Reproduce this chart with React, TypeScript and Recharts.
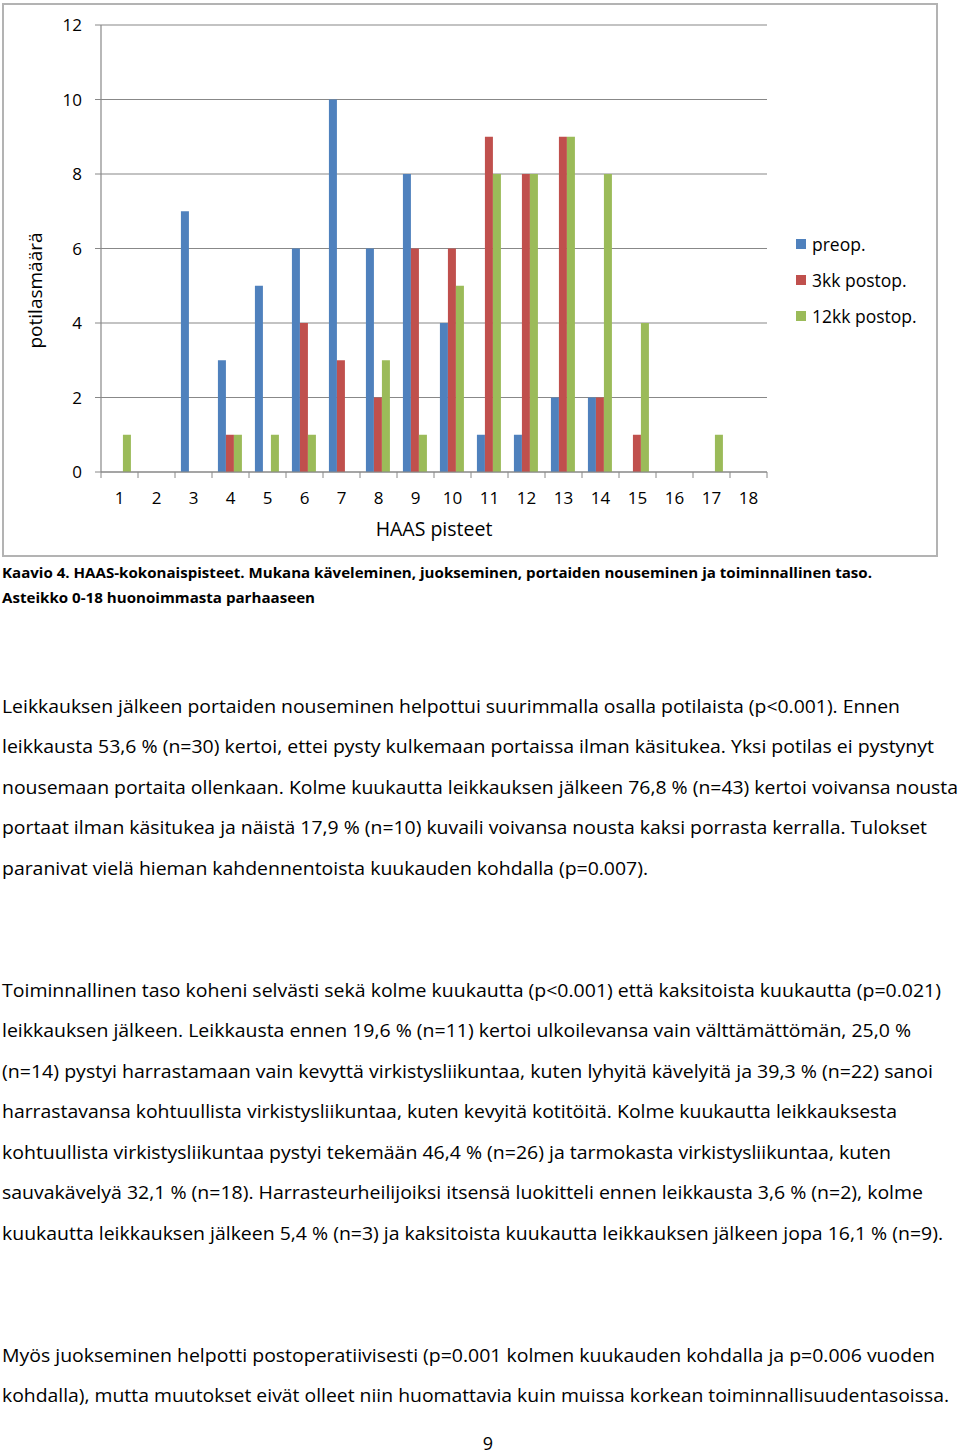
import React from 'react';
import { BarChart, Bar, XAxis, YAxis, CartesianGrid, Legend } from 'recharts';

// HAAS score categories and patient counts per time point
const scores = ['1', '2', '3', '4', '5', '6', '7', '8', '9', '10', '11', '12', '13', '14', '15', '16', '17', '18'];
const preop = [0, 0, 7, 3, 5, 6, 10, 6, 8, 4, 1, 1, 2, 2, 0, 0, 0, 0];
const postop3 = [0, 0, 0, 1, 0, 4, 3, 2, 6, 6, 9, 8, 9, 2, 1, 0, 0, 0];
const postop12 = [1, 0, 0, 1, 1, 1, 0, 3, 1, 5, 8, 8, 9, 8, 4, 0, 1, 0];
const yTicks = [0, 2, 4, 6, 8, 10, 12];
const seriesNames = ['preop.', '3kk postop.', '12kk postop.'];

const data = scores.map((s, i) => ({ score: s, preop: preop[i], postop3: postop3[i], postop12: postop12[i] }));

const captionLines = [
  'Kaavio 4. HAAS-kokonaispisteet. Mukana käveleminen, juokseminen, portaiden nouseminen ja toiminnallinen taso.',
  'Asteikko 0-18 huonoimmasta parhaaseen',
];
const para1 = [
  'Leikkauksen jälkeen portaiden nouseminen helpottui suurimmalla osalla potilaista (p<0.001). Ennen',
  'leikkausta 53,6 % (n=30) kertoi, ettei pysty kulkemaan portaissa ilman käsitukea. Yksi potilas ei pystynyt',
  'nousemaan portaita ollenkaan. Kolme kuukautta leikkauksen jälkeen 76,8 % (n=43) kertoi voivansa nousta',
  'portaat ilman käsitukea ja näistä 17,9 % (n=10) kuvaili voivansa nousta kaksi porrasta kerralla. Tulokset',
  'paranivat vielä hieman kahdennentoista kuukauden kohdalla (p=0.007).',
];
const para2 = [
  'Toiminnallinen taso koheni selvästi sekä kolme kuukautta (p<0.001) että kaksitoista kuukautta (p=0.021)',
  'leikkauksen jälkeen. Leikkausta ennen 19,6 % (n=11) kertoi ulkoilevansa vain välttämättömän, 25,0 %',
  '(n=14) pystyi harrastamaan vain kevyttä virkistysliikuntaa, kuten lyhyitä kävelyitä ja 39,3 % (n=22) sanoi',
  'harrastavansa kohtuullista virkistysliikuntaa, kuten kevyitä kotitöitä. Kolme kuukautta leikkauksesta',
  'kohtuullista virkistysliikuntaa pystyi tekemään 46,4 % (n=26) ja tarmokasta virkistysliikuntaa, kuten',
  'sauvakävelyä 32,1 % (n=18). Harrasteurheilijoiksi itsensä luokitteli ennen leikkausta 3,6 % (n=2), kolme',
  'kuukautta leikkauksen jälkeen 5,4 % (n=3) ja kaksitoista kuukautta leikkauksen jälkeen jopa 16,1 % (n=9).',
];
const para3 = [
  'Myös juokseminen helpotti postoperatiivisesti (p=0.001 kolmen kuukauden kohdalla ja p=0.006 vuoden',
  'kohdalla), mutta muutokset eivät olleet niin huomattavia kuin muissa korkean toiminnallisuudentasoissa.',
];

// line layout: [y centre, right end]
const captionLayout = [[572, 872], [597, 315]];
const para1Layout = [[706, 900], [746, 934], [787, 958], [827, 927], [868, 648]];
const para2Layout = [[990, 941], [1030, 911], [1071, 933], [1111, 897], [1152, 891], [1192, 923], [1233, 943]];
const para3Layout = [[1355, 935], [1395, 949]];

const BLUE = '#4F81BD';
const RED = '#C0504D';
const GREEN = '#9BBB59';
const AXIS = '#888888';
const FONT = '"Open Sans", "Liberation Sans", sans-serif';

const ScoreTick = (props: any) => {
  const { x, y, payload, index } = props;
  const half = payload && payload.offset ? payload.offset : 18.5;
  return (
    <g>
      <line x1={x - half} x2={x - half} y1={y} y2={y + 6} stroke={AXIS} />
      {index === scores.length - 1 && <line x1={x + half} x2={x + half} y1={y} y2={y + 6} stroke={AXIS} />}
      <text x={x} y={y + 32} textAnchor="middle" fontSize={17} fontFamily={FONT} fill="#000">
        {payload.value}
      </text>
    </g>
  );
};

const renderLegend = (props: any) => {
  const items = seriesNames.map((n) => props.payload.find((p: any) => p.value === n)).filter(Boolean);
  return (
    <div style={{ fontFamily: FONT, fontSize: 17.5 }}>
      {items.map((p: any) => (
        <div key={p.value} style={{ display: 'flex', alignItems: 'center', height: 36 }}>
          <span style={{ width: 10, height: 10, background: p.color, marginRight: 6, display: 'inline-block' }} />
          <span style={{ color: '#000' }}>{p.value}</span>
        </div>
      ))}
    </div>
  );
};

const YTitle = (props: any) => {
  const { viewBox } = props;
  const cx = viewBox.x + 35;
  const cy = viewBox.y + viewBox.height / 2 + 42;
  return (
    <text x={cx} y={cy} transform={`rotate(-90, ${cx}, ${cy})`} textAnchor="middle" dominantBaseline="central" fontSize={19} fontFamily={FONT} fill="#000">
      potilasmäärä
    </text>
  );
};

const TextLines = ({ lines, layout, size, weight }: any) => (
  <>
    {lines.map((t: string, i: number) => (
      <text
        key={i}
        x={2}
        y={layout[i][0]}
        dominantBaseline="central"
        fontSize={size}
        fontWeight={weight}
        fontFamily={FONT}
        textLength={layout[i][1] - 2}
        lengthAdjust="spacingAndGlyphs"
        fill="#000"
      >
        {t}
      </text>
    ))}
  </>
);

export default function App() {
  return (
    <div style={{ position: 'absolute', left: 0, top: 0, width: 960, height: 1455, background: '#fff', overflow: 'hidden' }}>
      <svg width={960} height={1455} style={{ position: 'absolute', left: 0, top: 0 }}>
        <TextLines lines={captionLines} layout={captionLayout} size={15} weight={700} />
        <TextLines lines={para1} layout={para1Layout} size={19} weight={400} />
        <TextLines lines={para2} layout={para2Layout} size={19} weight={400} />
        <TextLines lines={para3} layout={para3Layout} size={19} weight={400} />
        <text x={488} y={1443} textAnchor="middle" dominantBaseline="central" fontSize={18} fontFamily={FONT} fill="#000">
          9
        </text>
      </svg>
      <div
        style={{
          position: 'absolute',
          left: 2,
          top: 3,
          width: 936,
          height: 554,
          border: '2px solid #b3b3b3',
          boxSizing: 'border-box',
        }}
      />
      <div style={{ position: 'absolute', left: 0, top: 0 }}>
        <BarChart
          width={940}
          height={560}
          data={data}
          margin={{ top: 25, right: 173, bottom: 0, left: 0 }}
          barCategoryGap="16%"
          barGap={0}
        >
          <CartesianGrid vertical={false} stroke={AXIS} strokeWidth={1.2} />
          <XAxis
            dataKey="score"
            height={88}
            interval={0}
            tickSize={0}
            tickMargin={0}
            tickLine={false}
            axisLine={{ stroke: AXIS, strokeWidth: 1.2 }}
            tick={<ScoreTick />}
            label={{ value: 'HAAS pisteet', position: 'insideBottom', offset: 24, fontSize: 19.5, fontFamily: FONT, fill: '#000' }}
          />
          <YAxis
            width={101}
            domain={[0, 12]}
            ticks={yTicks}
            interval={0}
            tickSize={6}
            tickMargin={13}
            tickLine={{ stroke: AXIS }}
            axisLine={{ stroke: AXIS, strokeWidth: 1.2 }}
            tick={{ fontSize: 17, fontFamily: FONT, fill: '#000' }}
            label={<YTitle />}
          />
          <Legend
            layout="vertical"
            align="center"
            verticalAlign="middle"
            content={renderLegend}
            wrapperStyle={{ left: 796, top: 226, width: 140, height: 110 }}
          />
          <Bar dataKey="preop" name="preop." fill={BLUE} isAnimationActive={false} />
          <Bar dataKey="postop3" name="3kk postop." fill={RED} isAnimationActive={false} />
          <Bar dataKey="postop12" name="12kk postop." fill={GREEN} isAnimationActive={false} />
        </BarChart>
      </div>
    </div>
  );
}
